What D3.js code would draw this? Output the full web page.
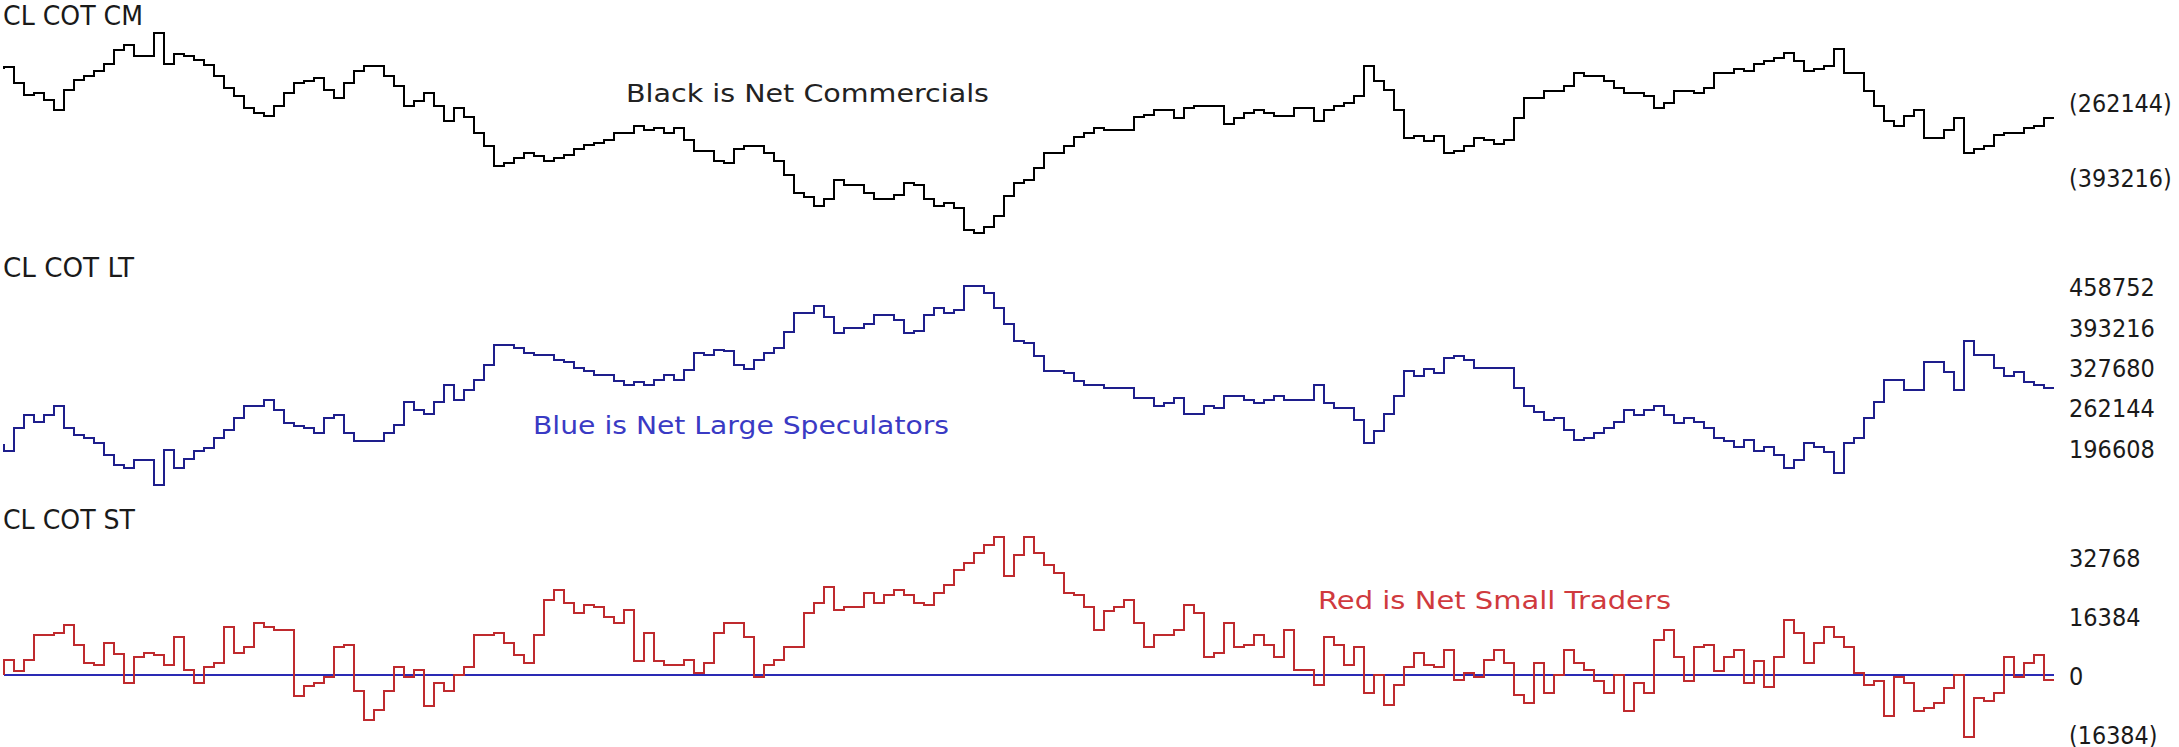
<!DOCTYPE html>
<html><head><meta charset="utf-8">
<script src="https://cdn.jsdelivr.net/npm/d3@7/dist/d3.min.js"></script>
<style>
html,body{margin:0;padding:0;background:#fff;overflow:hidden}
svg{display:block;background:#fff}
</style></head><body>
<svg id="chart" width="2179" height="747"></svg>
<script>
// Weekly COT positions for crude oil (CL), values in thousands of contracts
const weeks = d3.range(205);

const netCommercials = [
-200,-228,-249,-246,-258,-276,-240,-222,-216,-207,
-194,-171,-162,-181,-181,-141,-194,-177,-181,-188,
-197,-216,-237,-251,-272,-281,-286,-268,-246,-228,
-224,-220,-240,-255,-228,-207,-198,-198,-216,-233,
-268,-259,-246,-268,-294,-272,-288,-316,-338,-373,
-368,-360,-351,-355,-364,-360,-354,-343,-337,-333,
-328,-316,-315,-304,-310,-307,-316,-307,-327,-347,
-347,-364,-368,-343,-338,-338,-351,-364,-389,-420,
-428,-443,-430,-398,-406,-406,-420,-430,-430,-424,
-402,-406,-430,-443,-438,-447,-485,-491,-479,-461,
-426,-403,-398,-377,-351,-351,-338,-323,-315,-306,
-310,-310,-310,-288,-284,-276,-276,-290,-272,-268,
-268,-268,-299,-290,-281,-276,-281,-286,-286,-272,
-272,-294,-276,-268,-263,-250,-198,-224,-240,-276,
-325,-321,-329,-320,-351,-347,-338,-324,-328,-334,
-328,-290,-255,-255,-242,-242,-233,-210,-216,-216,
-224,-237,-245,-245,-250,-272,-263,-242,-242,-246,
-237,-210,-210,-203,-207,-194,-189,-185,-176,-189,
-207,-203,-198,-168,-210,-210,-242,-268,-294,-304,
-285,-276,-324,-324,-311,-290,-351,-343,-338,-319,
-315,-315,-307,-303,-290];

const netLargeSpecs = [
192,230,250,239,250,266,230,218,214,205,
185,170,164,178,178,137,194,164,180,192,
197,214,226,246,266,266,275,259,237,233,
230,221,246,251,221,209,209,209,221,234,
271,259,253,271,299,275,291,307,331,364,
364,360,352,348,348,340,336,327,322,316,
316,305,299,304,299,307,316,307,324,352,
348,356,355,331,326,340,351,360,385,416,
416,428,409,383,392,392,399,413,413,405,
383,387,413,425,416,421,460,460,448,425,
399,371,367,347,322,322,318,305,299,299,
294,294,294,278,278,265,270,278,253,253,
265,262,282,282,275,270,275,282,275,275,
275,299,270,262,262,243,205,225,253,282,
322,314,326,318,343,347,340,327,327,327,
327,295,266,255,243,246,226,210,214,221,
230,239,259,250,259,266,251,237,246,239,
230,214,209,198,210,192,198,185,165,178,
205,199,191,156,205,214,246,271,307,307,
291,291,336,336,321,291,371,348,348,327,
314,320,304,299,294];

const netSmallTraders = [
4.2,1.2,4.2,11.1,11.1,11.8,13.9,8.3,3.4,2.8,
9.0,5.8,-2.1,4.9,6.2,5.6,2.8,10.5,1.4,-2.1,
2.1,3.4,13.2,6.2,7.7,14.5,13.2,12.5,12.5,-5.8,
-3.1,-2.1,-0.6,7.7,8.3,-4.4,-12.5,-9.7,-4.4,2.1,
-0.6,1.4,-8.6,-2.1,-4.4,0,2.1,11.1,11.1,11.8,
9.0,5.6,3.4,11.1,20.8,23.6,20.1,17.3,19.4,18.8,
16.0,14.5,18.1,4.0,11.8,4.0,2.8,2.8,4.2,0.5,
3.4,11.8,14.5,14.5,10.6,-0.6,2.8,4.2,7.7,7.7,
17.3,20.1,24.3,18.1,18.8,18.8,22.9,20.1,22.2,23.6,
22.2,20.1,19.4,22.9,25.0,29.2,31.2,34.0,36.1,38.2,
27.5,33.3,38.2,34.0,30.5,28.4,22.9,22.2,18.8,12.5,
17.9,18.8,20.8,14.5,7.7,11.1,11.1,12.5,19.4,17.3,
4.9,6.2,14.5,7.7,8.3,11.1,8.3,4.9,12.5,1.4,
1.4,-2.8,10.6,8.3,2.8,7.7,-4.9,0,-8.3,-2.8,
2.1,6.2,2.8,2.1,6.9,-1.4,0.6,-0.6,4.2,6.9,
3.4,-5.6,-7.7,3.4,-4.9,0,6.9,3.4,1.4,-1.6,
-4.9,0,-9.9,-2.1,-4.9,9.7,12.5,4.9,-1.6,7.7,
8.3,1.2,4.9,6.9,-2.1,4.0,-3.4,4.9,15.3,11.8,
3.4,9.0,13.2,10.5,7.7,0.6,-2.8,-1.6,-11.4,-0.6,
-2.1,-9.9,-9.3,-7.9,-3.7,0,-17.3,-6.5,-7.1,-4.9,
4.9,-0.6,3.4,5.6,-1.4];

// level of each series in the week before the first plotted week
const openingLevels = [-203, 203, 0];

const cmTicks = [-262.144, -393.216];
const cmTickLabels = ["(262144)", "(393216)"];
const ltTicks = [458.752, 393.216, 327.68, 262.144, 196.608];
const ltTickLabels = ["458752", "393216", "327680", "262144", "196608"];
const stTicks = [32.768, 16.384, 0, -16.384];
const stTickLabels = ["32768", "16384", "0", "(16384)"];
const panelTitles = ["CL COT CM", "CL COT LT", "CL COT ST"];
const panelNotes = ["Black is Net Commercials", "Blue is Net Large Speculators", "Red is Net Small Traders"];

const svg = d3.select("#chart");
const narrow = "'Liberation Sans Narrow','DejaVu Sans Condensed','Arial Narrow',sans-serif";
const noteFont = "'DejaVu Sans',Tahoma,Verdana,sans-serif";

const x = d3.scaleLinear().domain([0, weeks.length]).range([3.5, 2053.5]);

const panels = [
  {values: netCommercials, open: openingLevels[0], y: d3.scaleLinear().domain([-262.144, -393.216]).range([102.5, 177.5]),
   ticks: cmTicks, labels: cmTickLabels, color: "#000000", title: panelTitles[0], titleY: 25, titleW: 140,
   note: panelNotes[0], noteX: 626, noteY: 102, noteW: 363, noteColor: "#222222"},
  {values: netLargeSpecs, open: openingLevels[1], y: d3.scaleLinear().domain([458.752, 196.608]).range([286.7, 448.3]),
   ticks: ltTicks, labels: ltTickLabels, color: "#1e1e8c", title: panelTitles[1], titleY: 277, titleW: 131,
   note: panelNotes[1], noteX: 533, noteY: 434, noteW: 416, noteColor: "#3a3ac4"},
  {values: netSmallTraders, open: openingLevels[2], y: d3.scaleLinear().domain([32.768, 0]).range([557, 675]),
   ticks: stTicks, labels: stTickLabels, color: "#bf2a2e", title: panelTitles[2], titleY: 529, titleW: 132,
   note: panelNotes[2], noteX: 1318, noteY: 609, noteW: 353, noteColor: "#d03a3e", zero: true}
];

function labelWidth(s) {
  let w = 0;
  for (const c of s) w += (c === "(" || c === ")") ? 8.5 : 14.3;
  return w;
}

panels.forEach(p => {
  if (p.zero) {
    svg.append("line")
      .attr("x1", x(0)).attr("x2", x(weeks.length))
      .attr("y1", p.y(0)).attr("y2", p.y(0))
      .attr("stroke", "#2a2ab4").attr("stroke-width", 2)
      .attr("shape-rendering", "crispEdges");
  }
  const pts = [[0, p.open]].concat(weeks.map(i => [i, p.values[i]]));
  pts.push([weeks.length, p.values[p.values.length - 1]]);
  const line = d3.line().x(d => x(d[0])).y(d => p.y(d[1])).curve(d3.curveStepAfter);
  svg.append("path").datum(pts)
    .attr("d", line)
    .attr("fill", "none")
    .attr("stroke", p.color)
    .attr("stroke-width", 2)
    .attr("stroke-linejoin", "miter")
    .attr("shape-rendering", "crispEdges");

  svg.append("text")
    .attr("x", 3).attr("y", p.titleY)
    .attr("font-family", narrow).attr("font-size", 26)
    .attr("fill", "#1a1a1a")
    .attr("textLength", p.titleW).attr("lengthAdjust", "spacingAndGlyphs")
    .text(p.title);

  svg.append("text")
    .attr("x", p.noteX).attr("y", p.noteY)
    .attr("font-family", noteFont).attr("font-size", 24)
    .attr("fill", p.noteColor)
    .attr("textLength", p.noteW).attr("lengthAdjust", "spacingAndGlyphs")
    .text(p.note);

  const ax = d3.axisRight(p.y)
    .tickValues(p.ticks)
    .tickFormat((d, i) => p.labels[i])
    .tickSize(0).tickPadding(0);
  const g = svg.append("g").attr("transform", "translate(2069,0)").call(ax);
  g.attr("font-size", null).attr("font-family", null);
  g.select(".domain").remove();
  g.selectAll("text")
    .attr("x", 0).attr("dy", "0.36em")
    .attr("font-family", narrow).attr("font-size", 25)
    .attr("fill", "#1a1a1a")
    .attr("text-anchor", "start")
    .attr("lengthAdjust", "spacingAndGlyphs")
    .attr("textLength", (d, i) => labelWidth(p.labels[i]));
});
</script>
</body></html>
